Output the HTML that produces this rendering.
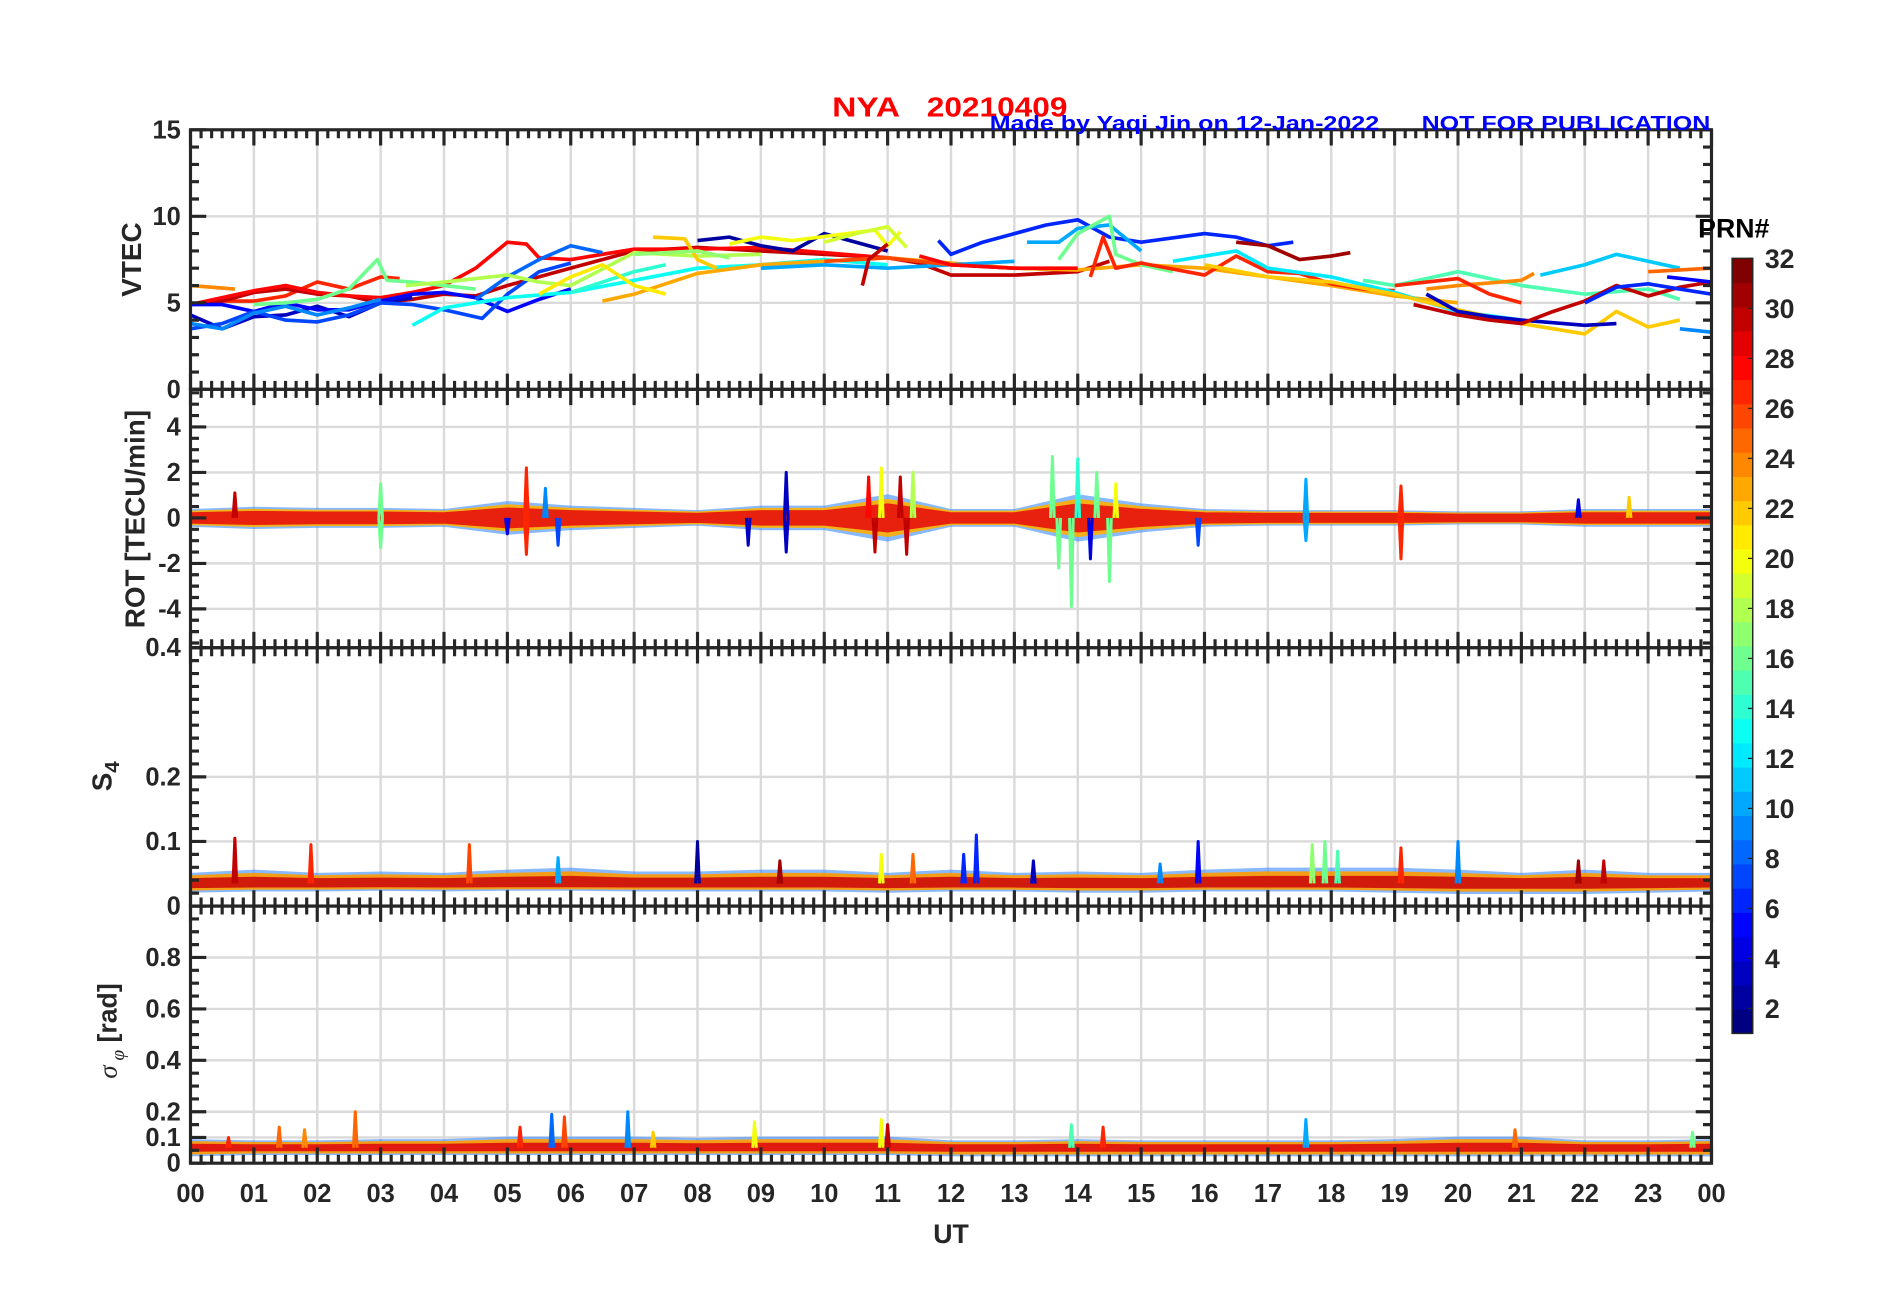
<!DOCTYPE html>
<html><head><meta charset="utf-8">
<style>
html,body{margin:0;padding:0;background:#fff;}
svg{display:block;font-family:"Liberation Sans",Arial,sans-serif;}
</style></head>
<body>
<svg id="chart" width="1902" height="1292" viewBox="0 0 1568 1065.2" xmlns="http://www.w3.org/2000/svg">
<rect x="0" y="0" width="1568" height="1066" fill="#fff"/>
<g id="grid"></g>
<g id="series"></g>
<g id="axes"></g>
<g id="labels"></g>
<text y="96" font-size="23" font-weight="bold" fill="#ff0000"><tspan x="686" textLength="56" lengthAdjust="spacingAndGlyphs">NYA</tspan><tspan x="764" textLength="116" lengthAdjust="spacingAndGlyphs">20210409</tspan></text>
<text x="816" y="107" font-size="17" font-weight="bold" fill="#0000ff" textLength="321" lengthAdjust="spacingAndGlyphs">Made by Yaqi Jin on 12-Jan-2022</text>
<text x="1172" y="107" font-size="17" font-weight="bold" fill="#0000ff" textLength="238" lengthAdjust="spacingAndGlyphs">NOT FOR PUBLICATION</text>
<text transform="translate(116,214) rotate(-90)" text-anchor="middle" font-size="23" font-weight="bold" fill="#262626">VTEC</text>
<text transform="translate(119,428) rotate(-90)" text-anchor="middle" font-size="23" font-weight="bold" fill="#262626">ROT [TECU/min]</text>
<text transform="translate(92,640) rotate(-90)" text-anchor="middle" font-size="23" font-weight="bold" fill="#262626">S<tspan font-size="17" dy="6">4</tspan></text>
<text transform="translate(96,850) rotate(-90)" text-anchor="middle" font-size="22" font-weight="bold" fill="#262626"><tspan font-family="Liberation Serif" font-style="italic" font-weight="normal">σ</tspan><tspan font-size="16" dy="6" font-family="Liberation Serif" font-style="italic" font-weight="normal"> φ</tspan><tspan dy="-6"> [rad]</tspan></text>
<text x="784" y="1025" text-anchor="middle" font-size="22" font-weight="bold" fill="#262626">UT</text>
<text x="1400" y="196" font-size="22" font-weight="bold" fill="#000">PRN#</text>
<g id="colorbar"></g>
</svg>
<script>
var hourTicks = ["00","01","02","03","04","05","06","07","08","09","10","11","12","13","14","15","16","17","18","19","20","21","22","23","00"];
var prnTicks = [2,4,6,8,10,12,14,16,18,20,22,24,26,28,30,32];
var vtecPrn = [24,27,30,28,3,5,7,9,8,16,18,13,14,23,21,22,2,20,6,10,16,27,31,12,22,15,24,27,3,30,11,25,6,5,9,10,19,26,28,30,17];
var vtecPts = [
 [[0,6.0],[0.7,5.8]],
 [[0.5,5.1],[1,5.1],[1.5,5.4],[2,6.2],[2.5,5.8],[3,6.5],[3.3,6.4]],
 [[0,4.9],[0.5,5.1],[1,5.6],[1.5,5.8],[2,5.5],[2.5,5.4],[3,5.0],[3.5,5.2],[4,5.5],[4.5,5.4],[5,6.0],[6,7.0],[7,8.0],[8,8.2],[9,8.0],[10,7.8],[11,7.6],[11.5,7.3],[12,6.6],[13,6.6],[14,6.8],[14.5,7.4]],
 [[0,4.9],[1,5.7],[1.5,6.0],[2,5.6],[2.5,5.4],[3,5.3],[3.5,5.6],[4,6.0],[4.5,7.0],[5,8.5],[5.3,8.4],[5.5,7.6],[6,7.5],[6.5,7.8],[7,8.1],[8,8.1],[9,8.2],[10,7.9],[11,7.6],[12,7.2],[13,7.0],[14,6.9]],
 [[0,4.3],[0.5,3.5],[1,4.2],[1.5,4.3],[2,4.8],[2.5,4.2],[3,5.0],[3.5,5.3]],
 [[0,4.9],[0.5,4.9],[1,4.5],[1.5,5.0],[2,4.6],[2.5,4.6],[3,5.1],[3.5,5.5],[4,5.6],[4.5,5.3],[5,4.5],[5.5,5.2],[6,5.8]],
 [[0,3.5],[0.5,3.8],[1,4.5],[1.5,4.0],[2,3.9],[2.5,4.3],[3,5.0],[3.5,4.9],[4,4.6],[4.6,4.1],[5,5.5],[5.5,6.8],[6,7.3]],
 [[0,3.8],[0.5,3.5],[1,4.4],[1.5,4.8],[2,4.3],[2.5,4.7],[3,5.2]],
 [[4.5,5.2],[5,6.5],[5.5,7.5],[6,8.3],[6.5,7.9]],
 [[1,4.9],[1.5,5.0],[2,5.2],[2.5,5.8],[2.95,7.5],[3.1,6.3],[3.5,6.2],[4,6.0],[4.5,5.8]],
 [[3.4,6.0],[4,6.2],[5,6.6],[5.5,6.2],[6,6.0],[7,7.9],[8,7.7],[9,7.8]],
 [[3.5,3.7],[4,4.7],[5,5.3],[6,5.6],[7,6.3],[8,7.0],[9,7.2],[10,7.5],[11,7.2]],
 [[6,5.6],[7,6.8],[7.5,7.2]],
 [[6.5,5.1],[7,5.5],[8,6.7],[9,7.2],[10,7.4],[11,7.6],[12,7.3],[13,7.0],[14,6.9],[15,7.2],[16,7.0],[17,6.5],[18,6.0],[19,5.4],[20,5.0]],
 [[5.5,5.5],[6,6.5],[6.5,7.2],[7,6.0],[7.5,5.5]],
 [[7.3,8.8],[7.8,8.7],[8,7.5],[8.3,7.0]],
 [[8,8.6],[8.5,8.8],[9,8.3],[9.5,8.0],[10,9.0],[10.5,8.5],[11,8.0]],
 [[8.5,8.4],[9,8.8],[9.5,8.6],[10.8,9.2],[11,8.3],[11.2,9.1]],
 [[11.8,8.6],[12,7.8],[12.5,8.5],[13,9.0],[13.5,9.5],[14,9.8],[14.5,8.8],[15,8.5],[16,9.0],[16.5,8.8],[17,8.3],[17.4,8.5]],
 [[13.2,8.5],[13.7,8.5],[14,9.3],[14.5,9.5],[15,8.0]],
 [[13.7,7.5],[14,9.0],[14.5,10.0],[14.6,7.8],[15,7.2],[15.5,6.8]],
 [[14.2,6.5],[14.4,8.8],[14.6,7.0],[15,7.3],[16,6.6],[16.5,7.7],[17,6.8],[17.5,6.7],[18,6.1],[18.5,5.8],[19,5.7]],
 [[16.5,8.5],[17,8.3],[17.5,7.5],[18,7.7],[18.3,7.9]],
 [[15.5,7.4],[16.5,8.0],[17,7.0],[18,6.5],[19,5.6],[20,4.5],[21,4.0]],
 [[16,7.2],[17,6.5],[18,6.2],[19,5.5],[20,4.6],[21,3.8],[22,3.2],[22.5,4.5],[23,3.6],[23.5,4.0]],
 [[18.5,6.3],[19,6.0],[20,6.8],[21,6.0],[22,5.5],[23,5.8],[23.5,5.2]],
 [[19.5,5.8],[20,6.0],[21,6.3],[21.2,6.7]],
 [[19,6.0],[20,6.4],[20.5,5.5],[21,5.0]],
 [[19.5,5.5],[20,4.5],[20.5,4.2],[21,4.0],[22,3.7],[22.5,3.8]],
 [[19.3,4.9],[20,4.3],[20.5,4.0],[21,3.8],[21.5,4.5],[22,5.1],[22.5,6.0],[23,5.4],[23.5,5.9],[24,6.2]],
 [[21.3,6.6],[22,7.2],[22.5,7.8],[23,7.4],[23.5,7.0]],
 [[23,6.8],[23.5,6.9],[24,7.0]],
 [[22,5.0],[22.5,5.9],[23,6.1],[23.5,5.8],[24,5.5]],
 [[23.3,6.5],[24,6.2]],
 [[23.5,3.5],[24,3.3]],
 [[9,7.0],[10,7.2],[11,7.0],[12,7.2],[13,7.4]],
 [[10,8.5],[10.5,9.0],[11,9.4],[11.3,8.2]],
 [[10,7.4],[11,7.6],[12,7.2]],
 [[11.5,7.7],[12,7.2],[13,7.0],[14,7.0]],
 [[10.6,6.0],[10.7,7.5],[11,8.4]],
 [[7,7.8],[8,8.0],[8.5,7.6]]
];
var rotAmp = [0.35,0.45,0.4,0.4,0.35,0.7,0.5,0.4,0.3,0.5,0.5,1.0,0.35,0.35,1.0,0.6,0.35,0.3,0.3,0.3,0.25,0.25,0.35,0.35,0.35];
var rotSpikeHour = [0.7,3.0,3.0,5.0,5.3,5.3,5.6,5.8,8.8,9.4,9.4,10.7,10.8,10.9,11.2,11.3,11.4,13.6,13.7,13.9,14.0,14.2,14.3,14.5,14.6,15.9,17.6,17.6,19.1,19.1,21.9,22.7];
var rotSpikeVal  = [1.1,1.5,-1.3,-0.7,2.2,-1.6,1.3,-1.2,-1.2,2.0,-1.5,1.8,-1.5,2.2,1.8,-1.6,2.0,2.7,-2.2,-3.9,2.6,-1.8,2.0,-2.8,1.5,-1.2,1.7,-1.0,1.4,-1.8,0.8,0.9];
var rotSpikePrn  = [30,16,16,4,27,27,9,7,3,3,3,28,30,20,30,30,18,16,16,16,14,4,16,16,20,7,10,10,27,27,4,22];
var s4Low  = [0.022,0.024,0.024,0.025,0.024,0.025,0.025,0.024,0.024,0.024,0.024,0.022,0.024,0.024,0.022,0.022,0.024,0.024,0.024,0.022,0.02,0.02,0.02,0.022,0.024];
var s4High = [0.05,0.055,0.05,0.052,0.05,0.055,0.058,0.052,0.052,0.055,0.055,0.05,0.055,0.05,0.052,0.05,0.055,0.058,0.058,0.058,0.055,0.05,0.055,0.05,0.05];
var s4SpikeHour = [0.7,1.9,4.4,5.8,8.0,9.3,10.9,11.4,12.4,12.2,13.3,15.9,15.3,17.7,17.9,18.1,19.1,20.0,21.9,22.3];
var s4SpikeVal  = [0.105,0.095,0.095,0.075,0.1,0.07,0.08,0.08,0.11,0.08,0.07,0.1,0.065,0.095,0.1,0.085,0.09,0.1,0.07,0.07];
var s4SpikePrn  = [30,27,26,10,2,31,20,25,6,6,3,5,9,17,16,15,27,9,31,30];
var sigLow  = [0.03,0.035,0.035,0.035,0.035,0.035,0.035,0.035,0.035,0.035,0.035,0.035,0.03,0.03,0.03,0.03,0.03,0.03,0.03,0.03,0.03,0.03,0.03,0.03,0.03];
var sigHigh = [0.09,0.085,0.085,0.09,0.09,0.1,0.1,0.1,0.095,0.1,0.1,0.1,0.085,0.085,0.09,0.085,0.085,0.085,0.085,0.09,0.1,0.1,0.085,0.085,0.09];
var sigSpikeHour = [0.6,1.4,1.8,2.6,5.2,5.7,5.9,6.9,7.3,8.9,10.9,11.0,13.9,14.4,17.6,20.9,23.7];
var sigSpikeVal  = [0.1,0.14,0.13,0.2,0.14,0.19,0.18,0.2,0.12,0.16,0.17,0.15,0.15,0.14,0.17,0.13,0.12];
var sigSpikePrn  = [27,25,24,25,27,8,26,9,22,20,20,30,15,27,10,25,16];

var X0=157, X1=1411;
function xs(h){return X0+h*(X1-X0)/24;}
var panels=[
 {name:'vtec',top:107,bot:321,min:0,max:15},
 {name:'rot',top:321,bot:534,min:-5.707,max:5.653},
 {name:'s4',top:534,bot:747,min:0,max:0.4},
 {name:'sigma',top:747,bot:959,min:0,max:1.0}
];
function ys(p,v){return p.bot-(v-p.min)/(p.max-p.min)*(p.bot-p.top);}
function jet(prn){
 var t=(prn-1)/31;
 function c(x){return Math.round(255*Math.max(0,Math.min(1,x)));}
 return 'rgb('+c(1.5-Math.abs(4*t-3))+','+c(1.5-Math.abs(4*t-2))+','+c(1.5-Math.abs(4*t-1))+')';
}
var NS='http://www.w3.org/2000/svg';
function mk(tag,attrs,parent){var e=document.createElementNS(NS,tag);for(var k in attrs)e.setAttribute(k,attrs[k]);parent.appendChild(e);return e;}
var G=document.getElementById('grid'),S=document.getElementById('series'),A=document.getElementById('axes'),L=document.getElementById('labels'),CB=document.getElementById('colorbar');
var gridC='#dadada';
var gridY={vtec:[5,10],rot:[-4,-2,0,2,4],s4:[0.1,0.2],sigma:[0.1,0.2,0.4,0.6,0.8]};
var labY={vtec:[5,10,15],rot:[-4,-2,0,2,4],s4:[0.1,0.2],sigma:[0.1,0.2,0.4,0.6,0.8]};
var labTxt={vtec:['5','10','15'],rot:['-4','-2','0','2','4'],s4:['0.1','0.2'],sigma:['0.1','0.2','0.4','0.6','0.8']};
var minorStep={vtec:1,rot:0.5,s4:0.02,sigma:0.05};
var majorY={vtec:[0,5,10,15],rot:[-4,-2,0,2,4],s4:[0,0.1,0.2,0.4],sigma:[0,0.1,0.2,0.4,0.6,0.8,1]};

panels.forEach(function(p){
 for(var h=1;h<24;h++){
  var gl=mk('line',{x1:xs(h),x2:xs(h),y1:p.top,y2:p.bot,stroke:gridC,'stroke-width':2},G);
  
  
 }
 gridY[p.name].forEach(function(v){
  var gl=mk('line',{x1:X0,x2:X1,y1:ys(p,v),y2:ys(p,v),stroke:gridC,'stroke-width':2},G);
  
  
 });
 var tk='';
 for(var m=0;m<=144;m++){
  var x=xs(m/6), len=(m%6==0)?13:7;
  tk+='M'+x+' '+p.top+'v'+len+'M'+x+' '+p.bot+'v'+(-len);
 }
 for(var v=p.min;v<=p.max+1e-9;v+=minorStep[p.name]){
  var vv=Math.round(v/minorStep[p.name])*minorStep[p.name];
  if(vv<p.min-1e-9||vv>p.max+1e-9)continue;
  var y=ys(p,vv);
  tk+='M'+X0+' '+y+'h7M'+X1+' '+y+'h-7';
 }
 majorY[p.name].forEach(function(v){if(v<p.min||v>p.max)return;var y=ys(p,v);tk+='M'+X0+' '+y+'h13M'+X1+' '+y+'h-13';});
 var tp=mk('path',{d:tk,stroke:'#262626','stroke-width':2.6,fill:'none'},A);
 
 
 var box=mk('rect',{x:X0,y:p.top,width:X1-X0,height:p.bot-p.top,fill:'none',stroke:'#262626','stroke-width':2.6},A);
 
 
 labY[p.name].forEach(function(v,i){
  var t=mk('text',{x:X0-8,y:ys(p,v)+7,'text-anchor':'end','font-size':21,'font-weight':'bold',fill:'#262626'},L);
  t.textContent=labTxt[p.name][i];
  
  
 });
});
[['0',328],['0.4',541],['0',754],['0',966]].forEach(function(a){
 var t=mk('text',{x:X0-8,y:a[1],'text-anchor':'end','font-size':21,'font-weight':'bold',fill:'#262626'},L);
 t.textContent=a[0];
 
 
});
hourTicks.forEach(function(s,i){
 var t=mk('text',{x:xs(i),y:991,'text-anchor':'middle','font-size':21,'font-weight':'bold',fill:'#262626'},L);
 t.textContent=s;
 
 
});

var pv=panels[0];
vtecPts.forEach(function(pts,i){
 var d=pts.map(function(q,j){return (j?'L':'M')+xs(q[0]).toFixed(1)+' '+ys(pv,q[1]).toFixed(1);}).join('');
 var e=mk('path',{d:d,stroke:jet(vtecPrn[i]),'stroke-width':3,fill:'none','stroke-linejoin':'round'},S);
 
 
});

function band(p,lowArr,highArr,color,scale,center,name,op){
 var up='',dn='';
 for(var h=0;h<lowArr.length;h++){
  var hi=center+(highArr[h]-center)*scale;
  up+=(h?'L':'M')+xs(h)+' '+ys(p,hi);
 }
 for(var h2=lowArr.length-1;h2>=0;h2--){
  var lo2=center+(lowArr[h2]-center)*scale;
  dn+='L'+xs(h2)+' '+ys(p,lo2);
 }
 var e=mk('path',{d:up+dn+'Z',fill:color,stroke:color,'stroke-width':1.5,opacity:op},S);
 
 
}
function spikes(p,hrs,vals,prns,base,name){
 for(var i=0;i<hrs.length;i++){
  var x=xs(hrs[i]);
  var e=mk('path',{d:'M'+(x-1.5)+' '+ys(p,base)+'L'+x+' '+ys(p,vals[i])+'L'+(x+1.5)+' '+ys(p,base),stroke:jet(prns[i]),'stroke-width':2.5,fill:'none','stroke-linejoin':'round'},S);
  
  
 }
}
var pr=panels[1];
var rotNeg=rotAmp.map(function(a){return -a;});
band(pr,rotNeg,rotAmp,'#3a8cff',1,0,'rot-band-outer',0.6);
band(pr,rotNeg,rotAmp,'#ffb000',0.8,0,'rot-band-mid',0.9);
band(pr,rotNeg,rotAmp,'#e8200e',0.6,0,'rot-band-inner',1);
spikes(pr,rotSpikeHour,rotSpikeVal,rotSpikePrn,0,'rot-spike');
var ps=panels[2];
band(ps,s4Low,s4High,'#3a8cff',1,0.035,'s4-band-outer',0.6);
band(ps,s4Low,s4High,'#ff9a00',0.75,0.035,'s4-band-mid',0.9);
band(ps,s4Low,s4High,'#d01a0c',0.45,0.035,'s4-band-inner',1);
spikes(ps,s4SpikeHour,s4SpikeVal,s4SpikePrn,0.035,'s4-spike');
var pg=panels[3];
band(pg,sigLow,sigHigh,'#3a8cff',1,0.06,'sigma-band-outer',0.6);
band(pg,sigLow,sigHigh,'#ff9a00',0.75,0.06,'sigma-band-mid',0.9);
band(pg,sigLow,sigHigh,'#e01a0e',0.4,0.06,'sigma-band-inner',1);
spikes(pg,sigSpikeHour,sigSpikeVal,sigSpikePrn,0.06,'sigma-spike');

var cbX=1428,cbW=17,cbT=213,cbB=852;
for(var k=1;k<=32;k++){
 var r=mk('rect',{x:cbX,y:cbB-k*(cbB-cbT)/32,width:cbW,height:(cbB-cbT)/32+0.5,fill:jet(k)},CB);
 
 
}
var cbo=mk('rect',{x:cbX,y:cbT,width:cbW,height:cbB-cbT,fill:'none',stroke:'#262626','stroke-width':1.2},CB);


prnTicks.forEach(function(v){
 var y=cbB-(v-1)/31*(cbB-cbT);
 var tl=mk('line',{x1:cbX+cbW-4,x2:cbX+cbW,y1:y,y2:y,stroke:'#262626','stroke-width':1},CB);
 
 
 var t=mk('text',{x:1455,y:y+8,'font-size':22,'font-weight':'bold',fill:'#262626'},CB);
 t.textContent=String(v);
 
 
});
</script>
</body></html>
